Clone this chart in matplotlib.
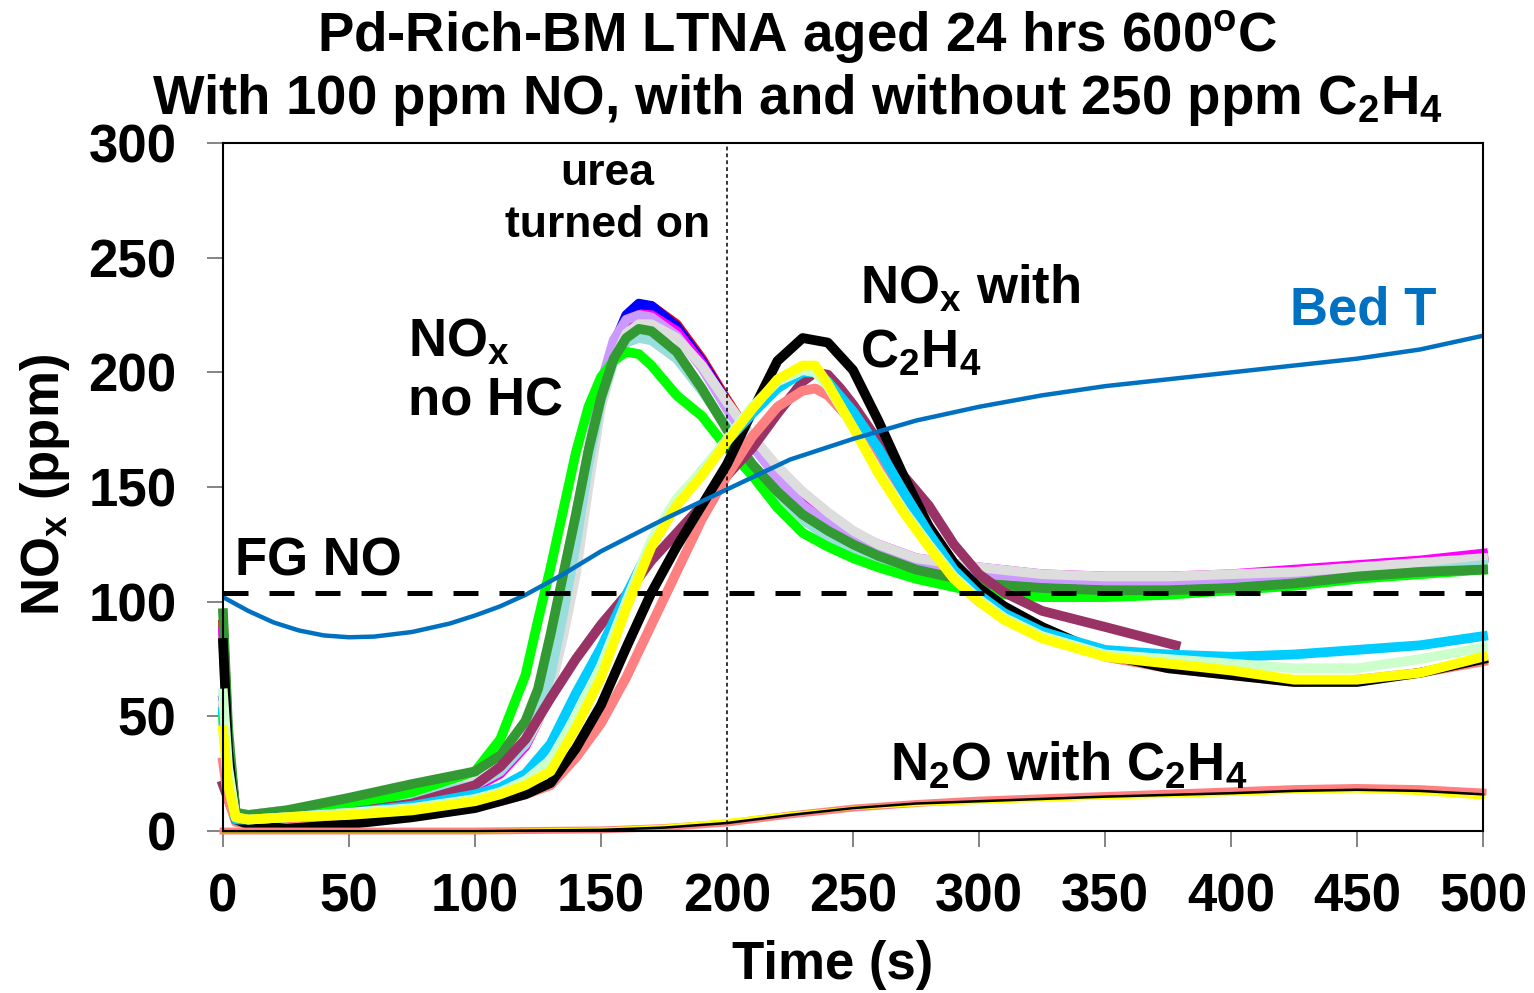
import numpy as np
import matplotlib
matplotlib.use('Agg')
import matplotlib.pyplot as plt

plt.rcParams['font.family'] = ['Liberation Sans', 'DejaVu Sans']
plt.rcParams['font.weight'] = 'bold'
plt.rcParams['mathtext.fontset'] = 'custom'
plt.rcParams['mathtext.rm'] = 'Liberation Sans:bold'
plt.rcParams['mathtext.it'] = 'Liberation Sans:bold'
plt.rcParams['mathtext.bf'] = 'Liberation Sans:bold'

# ---- NOx, no HC runs (time in s, NOx in ppm)
t_nohc = [0, 2, 5, 10, 25, 50, 75, 100, 110, 120, 125, 130, 135, 140, 145, 150, 155, 160, 165, 170,
          180, 190, 200, 210, 220, 230, 240, 250, 260, 275, 300, 325, 350, 375, 400, 425, 450, 475, 500]
red = [90, 40, 8, 6, 8, 11, 15, 20, 26, 38, 50, 68, 95, 125, 160, 190, 212, 224, 229, 229,
       221, 206, 188, 171, 157, 146, 137, 130, 124, 118, 113, 111, 110, 110, 111, 113, 115, 117, 120]
blue = [57, 30, 7, 6, 8, 11, 15, 20, 26, 38, 50, 68, 95, 125, 160, 190, 212, 225, 230, 229,
        220, 205, 187, 170, 156, 145, 136, 129, 123, 117, 112, 110, 109, 109, 110, 112, 114, 116, 119]
magenta = [87, 37, 8, 6, 8, 11, 15, 19, 25, 37, 48, 66, 92, 123, 158, 188, 210, 222, 225, 225,
           218, 204, 186, 170, 157, 146, 137, 130, 125, 119, 115, 112, 111, 111, 112, 114, 116, 118, 121]
lavender = [60, 28, 8, 7, 9, 12, 16, 21, 27, 40, 52, 72, 100, 132, 165, 195, 214, 223, 225, 224,
            216, 202, 184, 168, 154, 142, 134, 127, 122, 116, 112, 110, 109, 109, 110, 112, 114, 116, 119]
gray = [55, 25, 8, 7, 9, 12, 16, 21, 27, 38, 48, 62, 85, 112, 150, 185, 205, 217, 221, 221,
        215, 203, 187, 172, 159, 148, 139, 131, 125, 119, 115, 112, 111, 111, 112, 113, 115, 117, 119]
turq = [47, 22, 7, 6, 8, 11, 15, 20, 26, 38, 50, 68, 95, 125, 160, 188, 205, 213, 215, 214,
        206, 192, 176, 160, 147, 136, 128, 122, 117, 112, 107, 105, 104, 104, 105, 107, 110, 113, 116]
lime = [50, 25, 6, 5, 7, 11, 17, 26, 40, 68, 92, 115, 140, 165, 185, 198, 205, 209, 208, 203,
        190, 181, 167, 155, 141, 130, 124, 119, 115, 110, 104, 102, 102, 103, 105, 107, 110, 112, 114]
dkgreen = [95, 45, 8, 7, 9, 14.5, 20.5, 26, 33, 48, 62, 86, 112, 138, 166, 189, 206, 215, 219, 218,
           209, 193, 175, 160, 148, 138, 131, 125, 120, 114, 108, 106, 105, 105, 106, 108, 111, 113, 114]

# ---- NOx with C2H4 runs
t_hc = [0, 2, 5, 10, 25, 50, 75, 100, 110, 120, 130, 140, 150, 160, 170, 180, 190, 200, 210, 220,
        230, 235, 240, 250, 260, 270, 280, 290, 300, 310, 325, 350, 375, 400, 425, 450, 475, 500]
salmon = [30, 14, 4, 3, 3, 5, 7, 11, 13, 16, 20, 32, 47, 67, 90, 113, 136, 155, 172, 185,
          192, 193, 190, 178, 160, 142, 125, 110, 100, 93, 86, 76, 71, 68, 65, 66, 69, 74]
black = [82, 35, 5, 3, 1, 3, 6, 10, 13, 16, 21, 36, 55, 80, 104, 124, 142, 160, 183, 205,
         215, 214, 213, 201, 179, 155, 133, 117, 106, 98, 89, 77, 71, 68, 65, 65, 69, 75]
cyan = [52, 24, 5, 5, 6, 8, 11, 16, 19, 25, 38, 60, 80, 103, 125, 143, 157, 170, 182, 193,
        200, 200, 196, 183, 167, 148, 130, 114, 103, 95, 87, 79, 77, 76, 77, 79, 81, 85]
palegreen = [60, 28, 6, 5, 6, 8, 10, 14, 17, 22, 31, 50, 72, 100, 127, 145, 157, 171, 185, 196,
             201, 200, 194, 176, 157, 140, 125, 111, 101, 93, 85, 77, 75, 73, 71, 71, 75, 80]
yellow = [44, 20, 6, 5, 6, 7, 9, 13, 16, 20, 26, 45, 67, 97, 124, 142, 155, 170, 184, 197,
          203, 203, 195, 176, 156, 139, 124, 110, 100, 92, 84, 76, 73, 70, 66, 66, 69, 76]
t_maroon = [0, 5, 10, 25, 50, 75, 100, 110, 120, 130, 140, 150, 160, 170, 180, 190, 200, 210, 220,
            230, 235, 240, 245, 250, 260, 270, 280, 290, 300, 310, 325, 350, 378]
maroon = [20, 5, 5, 6, 8, 12, 20, 28, 40, 58, 75, 90, 103, 118, 130, 142, 155, 167, 182,
          196, 200, 199, 193, 186, 170, 155, 142, 125, 112, 104, 96, 89, 81]

# ---- N2O with C2H4
t_n2o = [0, 50, 100, 150, 175, 200, 225, 250, 275, 300, 350, 400, 425, 450, 475, 500]
n2o_salmon = [0, 0, 0, 0.5, 1.5, 3.5, 7, 10, 12, 13.5, 15.5, 17.5, 18.5, 19, 18.5, 17]
n2o_black = [0, 0, 0, 0.5, 1.5, 3.5, 7, 10, 12, 13, 15, 16.5, 17.5, 18, 17.5, 16]
n2o_yellow = [0, 0, 0, 0.8, 2, 4.5, 7.5, 10, 11.5, 12.5, 14.5, 16, 17, 17.5, 16.5, 14.5]

# ---- Bed temperature (plotted on the NOx scale)
t_bed = [0, 5, 10, 20, 30, 40, 50, 60, 75, 90, 100, 110, 120, 135, 150, 175, 200, 225, 250,
         275, 300, 325, 350, 375, 400, 425, 450, 475, 500]
bed_t = [102, 99, 96, 91, 87.5, 85.3, 84.5, 84.8, 86.8, 90.5, 94, 98, 103, 112, 122, 136, 149, 162, 171,
         179, 185, 190, 194, 197, 200, 203, 206, 210, 216]

fg_no = 104

fig = plt.figure(figsize=(15.34, 9.93), dpi=100)
ax = fig.add_axes([0.1454, 0.1631, 0.8214, 0.6928])

lw = 7
nohc = [(red, '#ff0000'), (blue, '#0000ff'), (magenta, '#ff00ff'), (lavender, '#cc99ff'),
        (gray, '#dddddd'), (turq, '#99dddd'), (lime, '#00ff00'), (dkgreen, '#339933')]
for vals, c in nohc:
    ax.plot(t_nohc, vals, color=c, lw=lw, clip_on=False)

ax.plot(t_maroon, maroon, color='#993366', lw=lw, clip_on=False)
ax.plot(t_hc, salmon, color='#ff8080', lw=lw, clip_on=False)
ax.plot(t_hc, black, color='black', lw=lw, clip_on=False)
ax.plot(t_hc, cyan, color='#00ccff', lw=lw, clip_on=False)
ax.plot(t_hc, palegreen, color='#ccffcc', lw=lw, clip_on=False)
ax.plot(t_hc, yellow, color='#ffff00', lw=lw, clip_on=False)

ax.plot(t_n2o, n2o_salmon, color='#ff8080', lw=5, clip_on=False)
ax.plot(t_n2o, n2o_yellow, color='#ffff00', lw=2.5, clip_on=False)
ax.plot(t_n2o, n2o_black, color='black', lw=1.8, clip_on=False)

ax.plot(t_bed, bed_t, color='#0070c0', lw=3.2)
ax.axhline(fg_no, color='black', lw=3.6, dashes=(5, 4.2))
ax.axvline(200, color='black', lw=1.1, dashes=(2.5, 2))

ax.set_xlim(0, 500)
ax.set_ylim(0, 300)
ax.set_xticks(np.arange(0, 501, 50))
ax.set_yticks(np.arange(0, 301, 50))
ax.tick_params(axis='both', direction='out', length=11.5, width=1.2, color='#707070',
               labelsize=38)
ax.tick_params(axis='x', pad=18)
ax.tick_params(axis='y', pad=22)
for lab in ax.get_xticklabels() + ax.get_yticklabels():
    lab.set_fontweight('bold')
for s in ax.spines.values():
    s.set_linewidth(1.5)

# annotations
fs = 38
ax.text(4.8, 111.6, 'FG NO', fontsize=fs, fontweight='bold')
ax.text(73.4, 206.7, 'NO$_x$', fontsize=fs, fontweight='bold')
ax.text(73.4, 181.4, 'no HC', fontsize=fs, fontweight='bold')
ax.text(252.8, 230, 'NO$_x$ with', fontsize=fs, fontweight='bold')
ax.text(252.8, 202, 'C$_2$H$_4$', fontsize=fs, fontweight='bold')
ax.text(423.4, 220.7, 'Bed T', fontsize=fs, fontweight='bold', color='#0070c0')
ax.text(264.7, 22.2, 'N$_2$O with C$_2$H$_4$', fontsize=fs, fontweight='bold')
ax.text(152.6, 281.7, 'urea', fontsize=32, fontweight='bold', ha='center')
ax.text(152.6, 259, 'turned on', fontsize=32, fontweight='bold', ha='center')

fig.text(0.52, 1 - 52 / 993, 'Pd-Rich-BM LTNA aged 24 hrs 600$^o$C', fontsize=39.3,
         fontweight='bold', ha='center', va='baseline')
fig.text(0.52, 1 - 114 / 993, 'With 100 ppm NO, with and without 250 ppm C$_2$H$_4$', fontsize=39.3,
         fontweight='bold', ha='center', va='baseline')
fig.text(45 / 1534, 1 - 485 / 993, 'NO$_x$ (ppm)', fontsize=38, fontweight='bold',
         rotation=90, ha='center', va='center')
fig.text(833 / 1534, 1 - 965 / 993, 'Time (s)', fontsize=38, fontweight='bold',
         ha='center', va='center')

plt.savefig('out.png', dpi=100)
